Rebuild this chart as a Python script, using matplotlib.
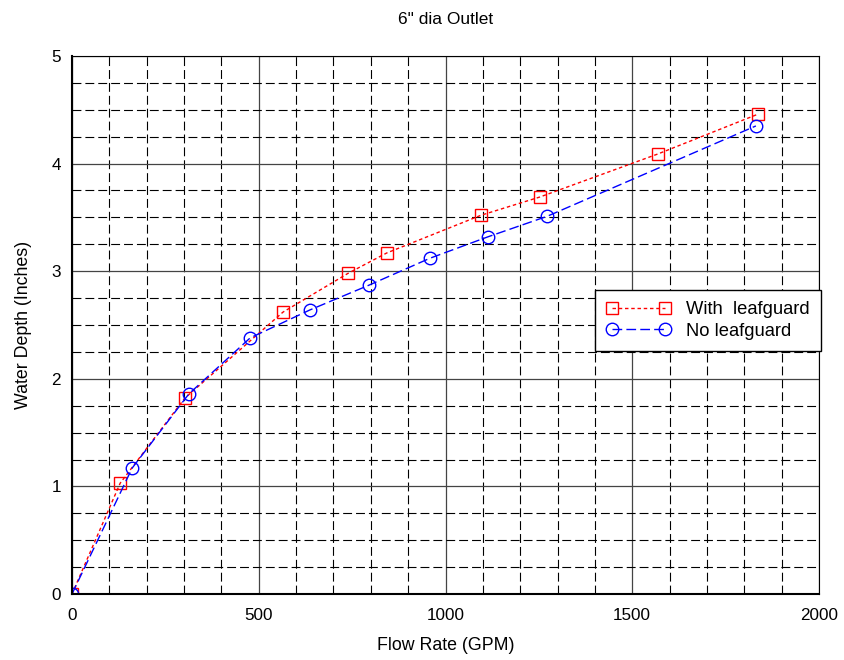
import matplotlib.pyplot as plt
from matplotlib.ticker import MultipleLocator

plt.rcParams['font.family'] = ['Liberation Sans', 'DejaVu Sans']

# data
flow_with = [0, 129, 302, 565, 739, 843, 1095, 1253, 1569, 1837]
depth_with = [0.0, 1.03, 1.82, 2.62, 2.98, 3.17, 3.52, 3.69, 4.09, 4.46]

flow_no = [0, 161, 313, 477, 637, 795, 958, 1114, 1272, 1831]
depth_no = [0.0, 1.17, 1.86, 2.38, 2.64, 2.87, 3.12, 3.32, 3.51, 4.35]

x_ticks = [0, 500, 1000, 1500, 2000]
y_ticks = [0, 1, 2, 3, 4, 5]

fig = plt.figure(figsize=(8.44, 6.6), dpi=100)
ax = fig.add_axes([72 / 844, 66 / 660, 747 / 844, 538 / 660])

ax.plot(flow_with, depth_with, color='red', linestyle=(0, (2.5, 2)), linewidth=1,
        marker='s', markersize=9, markerfacecolor='none', markeredgecolor='red',
        markeredgewidth=1, label='With  leafguard')
ax.plot(flow_no, depth_no, color='blue', linestyle=(0, (7, 3)), linewidth=1,
        marker='o', markersize=9, markerfacecolor='none', markeredgecolor='blue',
        markeredgewidth=1, label='No leafguard')

ax.set_xlim(0, 2000)
ax.set_ylim(0, 5)
ax.set_xticks(x_ticks)
ax.set_yticks(y_ticks)
ax.xaxis.set_minor_locator(MultipleLocator(100))
ax.yaxis.set_minor_locator(MultipleLocator(0.25))

# grid: solid majors, dashed minors
ax.grid(which='major', color='#444444', linestyle='-', linewidth=0.9)
ax.grid(which='minor', color='black', linestyle=(0, (8, 3.6)), linewidth=0.8)
ax.set_axisbelow(True)

ax.tick_params(which='both', direction='in', labelsize=12.3, length=0)
ax.tick_params(axis='x', pad=10)
ax.tick_params(axis='y', pad=8)

for side in ['top', 'right']:
    ax.spines[side].set_linewidth(0.8)
for side in ['left', 'bottom']:
    ax.spines[side].set_linewidth(1.5)

ax.set_title('6" dia Outlet', fontsize=12.5, pad=23)
ax.set_xlabel('Flow Rate (GPM)', fontsize=12.8, labelpad=10)
ax.set_ylabel('Water Depth (Inches)', fontsize=12.8, labelpad=14)

leg = ax.legend(loc='lower right', bbox_to_anchor=(1.0026, 0.4517), fontsize=13.2,
                frameon=True, fancybox=False, framealpha=1, edgecolor='black',
                borderaxespad=0, numpoints=2, handlelength=3.5, handletextpad=0.85,
                borderpad=0.62, labelspacing=0.25)
leg.get_frame().set_linewidth(1.0)

fig.savefig('out.png', dpi=100)
